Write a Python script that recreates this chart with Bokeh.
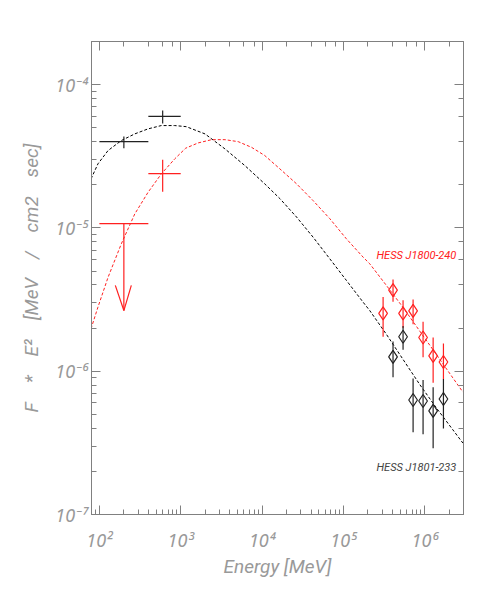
from bokeh.plotting import figure
from bokeh.models import (LogAxis, LogTicker, CustomJSTickFormatter, Label, Range1d)
from bokeh.embed import file_html
from bokeh.resources import INLINE

# ---------------- data ----------------
# model curves: energy [MeV] and E^2 F [MeV/cm2/s]
black_curve_e = [79, 96, 128, 186, 272, 396, 577, 843, 1170, 1990, 3500, 6160,
                 10800, 16600, 26600, 42500, 68100, 109000, 175000, 211000,
                 338000, 541000, 867000, 1.39e6, 2.22e6, 2.95e6]
black_curve_f = [2.20e-5, 2.80e-5, 3.47e-5, 4.07e-5, 4.53e-5, 4.91e-5, 5.18e-5,
                 5.18e-5, 5.09e-5, 4.53e-5, 3.56e-5, 2.72e-5, 2.03e-5, 1.60e-5,
                 1.19e-5, 8.61e-6, 6.09e-6, 4.30e-6, 3.03e-6, 2.65e-6, 1.81e-6,
                 1.21e-6, 8.09e-7, 5.55e-7, 3.90e-7, 3.15e-7]
red_curve_e = [79, 96, 128, 186, 272, 396, 577, 843, 1150, 1640, 2400, 3500,
               5090, 7440, 10800, 16600, 26600, 42500, 68100, 109000, 175000,
               211000, 338000, 541000, 867000, 1.39e6, 2.22e6, 2.95e6]
red_curve_f = [1.98e-6, 2.80e-6, 4.53e-6, 7.74e-6, 1.25e-5, 1.77e-5, 2.38e-5,
               3.03e-5, 3.60e-5, 3.92e-5, 4.13e-5, 4.13e-5, 4.00e-5, 3.65e-5,
               3.20e-5, 2.58e-5, 2.03e-5, 1.55e-5, 1.16e-5, 8.39e-6, 6.25e-6,
               5.62e-6, 3.97e-6, 2.79e-6, 1.91e-6, 1.31e-6, 8.98e-7, 7.15e-7]

# Fermi-LAT points
fermi_e = [200, 600]
fermi_emin = [100, 400]
fermi_emax = [400, 1000]
fermi_black = [4.0e-5, 6.0e-5]
fermi_black_lo = [3.6e-5, 5.35e-5]
fermi_black_hi = [4.35e-5, 6.6e-5]
fermi_red_e = [600]
fermi_red_emin = [400]
fermi_red_emax = [1000]
fermi_red = [2.39e-5]
fermi_red_lo = [1.79e-5]
fermi_red_hi = [2.99e-5]
ul_e = [200]
ul_emin = [100]
ul_emax = [400]
ul_val = [1.07e-5]
ul_end = [2.65e-6]

# HESS points
hess_red_e = [3.08e5, 4.08e5, 5.42e5, 7.2e5, 9.55e5, 1.27e6, 1.7e6]
hess_red = [2.53e-6, 3.68e-6, 2.53e-6, 2.64e-6, 1.72e-6, 1.28e-6, 1.16e-6]
hess_red_hi = [3.30e-6, 4.36e-6, 3.13e-6, 3.16e-6, 2.21e-6, 1.72e-6, 1.56e-6]
hess_red_lo = [1.74e-6, 3.05e-6, 2.0e-6, 2.13e-6, 1.25e-6, 8.3e-7, 8.8e-7]
hess_black_e = [4.08e5, 5.42e5, 7.2e5, 9.55e5, 1.27e6, 1.7e6]
hess_black = [1.26e-6, 1.74e-6, 6.3e-7, 6.2e-7, 5.28e-7, 6.4e-7]
hess_black_hi = [1.61e-6, 2.07e-6, 8.9e-7, 8.7e-7, 7.73e-7, 8.83e-7]
hess_black_lo = [9.06e-7, 1.41e-6, 3.75e-7, 3.63e-7, 2.9e-7, 3.98e-7]

label_red = "HESS J1800-240"
label_black = "HESS J1801-233"
x_title = "Energy [MeV]"
y_title = "F\u2003*\u2003E\u00b2\u2003[MeV\u2003/\u2003cm2\u2003sec]"

# ---------------- style ----------------
RED = "#ff2020"
BLACK = "#222222"
GREY = "#808080"
TEXT_GREY = "#999999"
FONT = "Roboto"
TICK_FONT = "Noto Sans"
# arrow-head shape (relative factors of the upper-limit arrow)
HEAD_LEFT, HEAD_RIGHT, HEAD_RISE = 0.785, 1.235, 1.5

p = figure(width=483, height=591, x_axis_type="log", y_axis_type="log",
           x_range=Range1d(80, 3e6), y_range=Range1d(1e-7, 2e-4),
           output_backend="svg", toolbar_location=None,
           min_border_left=91, min_border_right=20, min_border_top=41,
           min_border_bottom=77)
p.xgrid.visible = False
p.ygrid.visible = False
p.outline_line_color = GREY
p.background_fill_color = "white"
p.border_fill_color = "white"

fmt = CustomJSTickFormatter(code="""
const sup = {'-':'\u207b','0':'\u2070','1':'\u00b9','2':'\u00b2','3':'\u00b3','4':'\u2074','5':'\u2075','6':'\u2076','7':'\u2077','8':'\u2078','9':'\u2079'};
const e = Math.round(Math.log10(tick));
return '10' + String(e).split('').map(c => sup[c]).join('');
""")
blank = CustomJSTickFormatter(code="return ' ';")

def style_axis(ax, labels=True):
    ax.axis_line_color = GREY
    ax.major_tick_line_color = GREY
    ax.minor_tick_line_color = GREY
    ax.major_tick_in = 9
    ax.major_tick_out = 0
    ax.minor_tick_in = 5
    ax.minor_tick_out = 0
    if labels:
        ax.formatter = fmt
        ax.major_label_text_font = TICK_FONT
        ax.major_label_text_font_style = "italic"
        ax.major_label_text_font_size = "18px"
        ax.major_label_text_color = TEXT_GREY
        ax.axis_label_text_font = FONT
        ax.axis_label_text_font_style = "italic"
        ax.axis_label_text_font_size = "19px"
        ax.axis_label_text_color = TEXT_GREY
    else:
        ax.formatter = blank
        ax.major_label_text_font_size = "2px"
        ax.major_label_standoff = 0

xa = p.xaxis[0]
ya = p.yaxis[0]
style_axis(xa)
style_axis(ya)
xa.axis_label = x_title
ya.axis_label = y_title
xa.major_label_standoff = 13
xa.axis_label_standoff = 0
ya.major_label_standoff = 4
ya.axis_label_standoff = 9

top = LogAxis(ticker=LogTicker())
right = LogAxis(ticker=LogTicker())
style_axis(top, labels=False)
style_axis(right, labels=False)
p.add_layout(top, "above")
p.add_layout(right, "right")

# model curves
p.line(black_curve_e, black_curve_f, line_color="black", line_width=1, line_dash="3 2")
p.line(red_curve_e, red_curve_f, line_color=RED, line_width=1, line_dash="3 2")

# Fermi black
p.segment(x0=fermi_emin, x1=fermi_emax, y0=fermi_black, y1=fermi_black,
          line_color=BLACK, line_width=1.2)
p.segment(x0=fermi_e, x1=fermi_e, y0=fermi_black_lo, y1=fermi_black_hi,
          line_color=BLACK, line_width=1.2)
# Fermi red
p.segment(x0=fermi_red_emin, x1=fermi_red_emax, y0=fermi_red, y1=fermi_red,
          line_color=RED, line_width=1.2)
p.segment(x0=fermi_red_e, x1=fermi_red_e, y0=fermi_red_lo, y1=fermi_red_hi,
          line_color=RED, line_width=1.2)
# upper limit with arrow
p.segment(x0=ul_emin, x1=ul_emax, y0=ul_val, y1=ul_val, line_color=RED, line_width=1.2)
p.segment(x0=ul_e, x1=ul_e, y0=ul_val, y1=ul_end, line_color=RED, line_width=1.2)
p.segment(x0=[e * HEAD_LEFT for e in ul_e], x1=ul_e,
          y0=[v * HEAD_RISE for v in ul_end], y1=ul_end, line_color=RED, line_width=1.2)
p.segment(x0=[e * HEAD_RIGHT for e in ul_e], x1=ul_e,
          y0=[v * HEAD_RISE for v in ul_end], y1=ul_end, line_color=RED, line_width=1.2)

# HESS red
p.segment(x0=hess_red_e, x1=hess_red_e, y0=hess_red_lo, y1=hess_red_hi,
          line_color=RED, line_width=1.2)
p.scatter(hess_red_e, hess_red, marker="diamond", size=13, fill_color=None,
          line_color=RED, line_width=1.2)
# HESS black
p.segment(x0=hess_black_e, x1=hess_black_e, y0=hess_black_lo, y1=hess_black_hi,
          line_color=BLACK, line_width=1.2)
p.scatter(hess_black_e, hess_black, marker="diamond", size=13, fill_color=None,
          line_color=BLACK, line_width=1.2)

p.add_layout(Label(x=2.45e6, y=6.4e-6, text=label_red, text_align="right",
                   text_baseline="middle", text_font=FONT, text_font_style="italic",
                   text_font_size="11px", text_color=RED))
p.add_layout(Label(x=2.45e6, y=2.13e-7, text=label_black, text_align="right",
                   text_baseline="middle", text_font=FONT, text_font_style="italic",
                   text_font_size="11px", text_color="#444444"))

open("out.html", "w").write(file_html(p, INLINE))
